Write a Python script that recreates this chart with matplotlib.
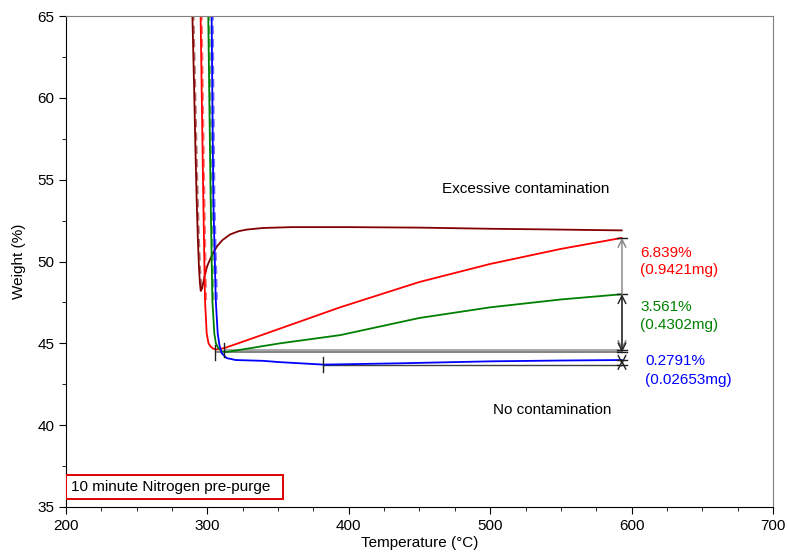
import numpy as np
import matplotlib
matplotlib.use("Agg")
import matplotlib.pyplot as plt
from matplotlib.patches import Rectangle

plt.rcParams['font.family'] = ['Liberation Sans', 'DejaVu Sans']

# curvas TGA (temperatura en °C, peso en %)
t_exceso = [289.0, 289.4, 290.5, 291.5, 292.4, 293.2, 294.0, 294.7, 295.3, 296.2, 297.3,
            298.5, 300.0, 302.0, 304.2, 307.0, 310.5, 316.0, 322.0, 327.8, 339.6, 360.0,
            400.0, 450.0, 500.0, 550.0, 593.0]
w_exceso = [67.0, 65.0, 61.0, 57.0, 53.8, 51.5, 49.7, 48.7, 48.2, 48.35, 48.8,
            49.3, 49.75, 50.15, 50.55, 50.95, 51.3, 51.65, 51.85, 51.95, 52.05, 52.1,
            52.1, 52.07, 52.0, 51.95, 51.9]

t_rojo = [294.9, 295.2, 296.2, 297.1, 298.3, 299.5, 300.8, 302.3, 304.0, 306.6, 312.4,
          330.0, 351.3, 393.8, 450.0, 500.0, 550.0, 593.0]
w_rojo = [67.0, 65.0, 59.0, 53.8, 47.65, 45.6, 45.0, 44.8, 44.68, 44.62, 44.72,
          45.25, 45.9, 47.2, 48.75, 49.85, 50.77, 51.44]

t_verde = [300.3, 300.6, 301.5, 302.3, 303.5, 304.9, 306.0, 307.7, 310.0, 313.6,
           330.0, 351.3, 393.8, 450.0, 500.0, 550.0, 593.0]
w_verde = [67.0, 65.0, 59.0, 53.8, 47.65, 45.6, 45.0, 44.7, 44.52, 44.47,
           44.7, 45.0, 45.5, 46.55, 47.2, 47.68, 48.0]

t_azul = [302.7, 303.0, 303.6, 304.2, 305.9, 307.3, 308.5, 310.1, 313.6, 320.0,
          339.5, 351.3, 382.0, 436.0, 500.0, 550.0, 593.0]
w_azul = [67.0, 65.0, 59.0, 53.8, 47.65, 45.6, 44.9, 44.4, 44.1, 43.98,
          43.93, 43.85, 43.7, 43.78, 43.9, 43.95, 43.98]

# escalones medidos
t_medida = 593.2
base_rojo, fin_rojo = 44.6, 51.44
base_verde, fin_verde = 44.45, 48.0
base_azul, fin_azul = 43.7, 43.98
inicio_rojo, inicio_verde, inicio_azul = 312.4, 306.6, 382.0

etiquetas = [("6.839%", "(0.9421mg)"), ("3.561%", "(0.4302mg)"), ("0.2791%", "(0.02653mg)")]

x_ticks = [200, 300, 400, 500, 600, 700]
y_ticks = [35, 40, 45, 50, 55, 60, 65]

OSCURO = '#800000'
ROJO = '#ff0000'
VERDE = '#008000'
AZUL = '#0000ff'
DESPLAZ = 0.9  # desplazamiento de la linea discontinua
FS = 11

fig = plt.figure(figsize=(7.88, 5.53), dpi=100)
ax = fig.add_axes([66 / 788, 46 / 553, 707 / 788, 491 / 553])

# lineas base horizontales
ax.plot([inicio_rojo, t_medida], [base_rojo, base_rojo], color='#909090', lw=1.1)
ax.plot([inicio_verde, t_medida], [base_verde, base_verde], color='#606060', lw=1.1)
ax.plot([inicio_azul, t_medida], [base_azul, base_azul], color='#404040', lw=1.0)

for t, w, c in [(t_exceso, w_exceso, OSCURO), (t_rojo, w_rojo, ROJO),
                (t_verde, w_verde, VERDE), (t_azul, w_azul, AZUL)]:
    t = np.array(t)
    w = np.array(w)
    ax.plot(t, w, color=c, lw=1.3)
    # solo el tramo de caida lleva la linea discontinua
    fin = int(np.argmax(w < 48.5))
    ax.plot(t[:fin + 1] + DESPLAZ, w[:fin + 1], color=c, lw=1.2, alpha=0.55, ls=(0, (5, 3)))

# marcas verticales de inicio
for t0, w0 in [(inicio_verde - 1.5, base_verde), (inicio_rojo - 0.8, base_rojo), (inicio_azul, base_azul)]:
    ax.plot([t0, t0], [w0 - 0.45, w0 + 0.45], color='#202020', lw=1.0)

# flechas de medida
flecha = dict(arrowstyle='<->', color='#202020', lw=1.0, shrinkA=0, shrinkB=0,
              mutation_scale=14)
ax.annotate('', xy=(t_medida, fin_rojo), xytext=(t_medida, base_rojo),
            arrowprops=dict(flecha, color='#808080'))
ax.annotate('', xy=(t_medida, fin_verde), xytext=(t_medida, base_verde), arrowprops=flecha)
ax.annotate('', xy=(t_medida, fin_azul), xytext=(t_medida, base_azul), arrowprops=flecha)
for v in [fin_rojo, fin_verde, base_rojo, base_verde, fin_azul, base_azul]:
    ax.plot([t_medida - 3.5, t_medida + 3.5], [v, v], color='#202020', lw=1.0)

# textos
ax.text(606.0, 50.5, etiquetas[0][0], color=ROJO, fontsize=FS, va='center')
ax.text(606.0, 49.5, etiquetas[0][1], color=ROJO, fontsize=FS, va='center')
ax.text(606.0, 47.2, etiquetas[1][0], color=VERDE, fontsize=FS, va='center')
ax.text(606.0, 46.15, etiquetas[1][1], color=VERDE, fontsize=FS, va='center')
ax.text(609.5, 43.9, etiquetas[2][0], color=AZUL, fontsize=FS, va='center')
ax.text(609.5, 42.75, etiquetas[2][1], color=AZUL, fontsize=FS, va='center')
ax.text(525, 54.4, 'Excessive contamination', fontsize=FS, ha='center', va='center')
ax.text(543.5, 40.9, 'No contamination', fontsize=FS, ha='center', va='center')

ax.add_patch(Rectangle((0.0, 8 / 491), 217 / 707, 24 / 491, transform=ax.transAxes,
                       facecolor='white', edgecolor='#e00000', lw=1.4, zorder=5))
ax.text(5 / 707, 20 / 491, '10 minute Nitrogen pre-purge', transform=ax.transAxes,
        fontsize=FS, va='center', ha='left', zorder=6)

ax.set_xlim(200, 700)
ax.set_ylim(35, 65)
ax.set_xticks(x_ticks)
ax.set_yticks(y_ticks)
ax.set_xticks(np.arange(200, 701, 25), minor=True)
ax.set_yticks(np.arange(35, 65.1, 2.5), minor=True)
ax.tick_params(direction='out', length=5, labelsize=FS)
ax.tick_params(which='minor', direction='out', length=3)
ax.spines['top'].set_color('#808080')
ax.spines['right'].set_color('#808080')
ax.set_xlabel('Temperature (°C)', fontsize=FS, labelpad=2)
ax.set_ylabel('Weight (%)', fontsize=FS, labelpad=8)

fig.savefig('out.png', dpi=100)
